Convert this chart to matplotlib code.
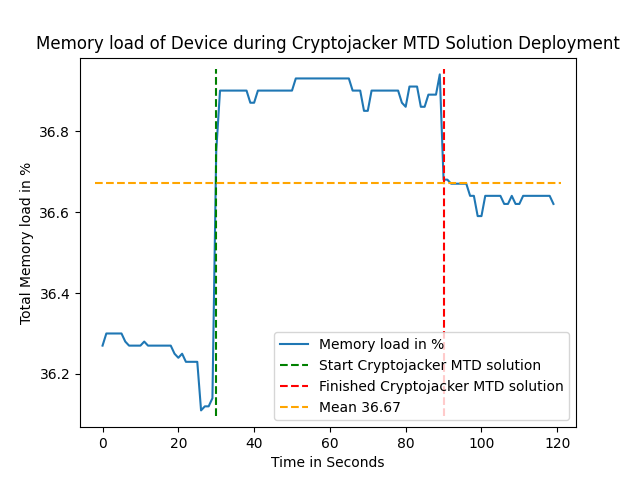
import matplotlib
matplotlib.use("Agg")
import matplotlib.pyplot as plt
import numpy as np

# memory load per second
before = [36.27, 36.30, 36.30, 36.30, 36.30, 36.30, 36.28, 36.27, 36.27, 36.27,
          36.27, 36.28, 36.27, 36.27, 36.27, 36.27, 36.27, 36.27, 36.27, 36.25,
          36.24, 36.25, 36.23, 36.23, 36.23, 36.23, 36.11, 36.12, 36.12, 36.14]
during = [36.75, 36.90, 36.90, 36.90, 36.90, 36.90, 36.90, 36.90, 36.90, 36.87,
          36.87, 36.90, 36.90, 36.90, 36.90, 36.90, 36.90, 36.90, 36.90, 36.90,
          36.90, 36.93, 36.93, 36.93, 36.93, 36.93, 36.93, 36.93, 36.93, 36.93,
          36.93, 36.93, 36.93, 36.93, 36.93, 36.93, 36.90, 36.90, 36.90, 36.85,
          36.85, 36.90, 36.90, 36.90, 36.90, 36.90, 36.90, 36.90, 36.90, 36.87,
          36.86, 36.91, 36.91, 36.91, 36.86, 36.86, 36.89, 36.89, 36.89, 36.94]
after = [36.68, 36.68, 36.67, 36.67, 36.67, 36.67, 36.67, 36.64, 36.64, 36.59,
         36.59, 36.64, 36.64, 36.64, 36.64, 36.64, 36.62, 36.62, 36.64, 36.62,
         36.62, 36.64, 36.64, 36.64, 36.64, 36.64, 36.64, 36.64, 36.64, 36.62]

memory = np.array(before + during + after)
t = np.arange(len(memory))
start = 30
finish = 90
mean = memory.mean()

fig, ax = plt.subplots(figsize=(6.4, 4.8), dpi=100)
ax.plot(t, memory, label="Memory load in %")
ax.axvline(start, ymin=0.03, ymax=0.97, color="green", linestyle="--",
           label="Start Cryptojacker MTD solution")
ax.axvline(finish, ymin=0.03, ymax=0.97, color="red", linestyle="--",
           label="Finished Cryptojacker MTD solution")
ax.axhline(mean, xmin=0.03, xmax=0.97, color="orange", linestyle="--",
           label="Mean %.2f" % mean)

ax.set_title("Memory load of Device during Cryptojacker MTD Solution Deployment")
ax.set_xlabel("Time in Seconds")
ax.set_ylabel("Total Memory load in %")
ax.legend(loc="lower right")
fig.savefig("out.png")
